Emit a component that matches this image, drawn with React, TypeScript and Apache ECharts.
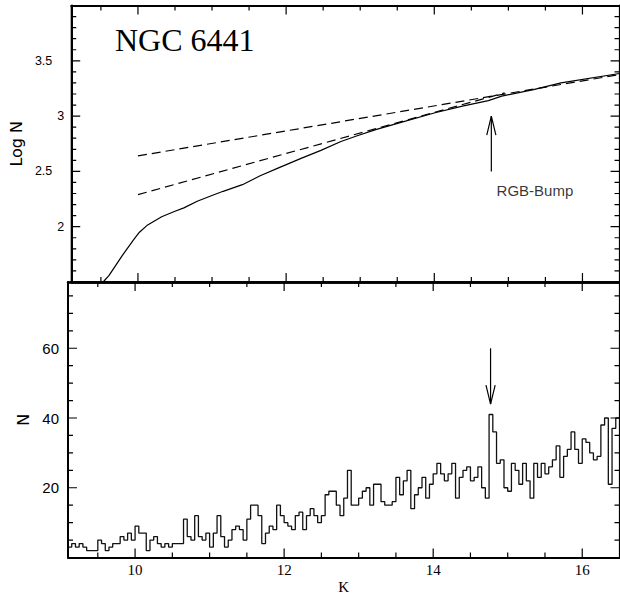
import React, { useEffect, useRef } from "react";
import * as echarts from "echarts";

// ---------- data ----------
const K_MIN = 9.1;
const K_MAX = 16.5;
const BIN_START = 9.1;
const BIN_WIDTH = 0.05;

// luminosity function counts per 0.05 mag bin (K = 9.10 ... 16.50)
const histCounts = [
  3, 4, 3, 4, 3, 2, 2, 2, 5, 4,
  2, 3, 4, 4, 6, 5, 7, 5, 9, 7,
  7, 2, 5, 6, 4, 3, 4, 3, 4, 4,
  4, 11, 6, 5, 12, 6, 5, 7, 3, 7,
  12, 6, 3, 5, 8, 9, 8, 5, 11, 15,
  15, 12, 4, 7, 9, 8, 15, 12, 10, 9,
  8, 12, 13, 8, 12, 14, 12, 10, 12, 18,
  19, 19, 15, 12, 17, 25, 15, 15, 17, 19,
  20, 15, 21, 21, 16, 15, 15, 16, 23, 18,
  22, 25, 14, 18, 20, 23, 17, 21, 24, 27,
  24, 22, 24, 27, 17, 23, 25, 26, 22, 23,
  26, 20, 17, 41, 36, 27, 28, 20, 19, 27,
  25, 21, 27, 22, 17, 27, 23, 27, 24, 26,
  28, 32, 23, 29, 31, 36, 31, 27, 34, 33,
  30, 28, 29, 38, 40, 21, 37, 40,
];

// cumulative luminosity function (Log N vs K)
const cumK = [9.53, 9.61, 9.79, 9.94, 10.02, 10.12, 10.32, 10.5, 10.62, 10.8, 10.99, 11.15, 11.41, 11.65, 11.89, 12.21, 12.47, 12.74, 12.95, 13.22, 13.48, 14.01, 14.38, 14.73, 14.91, 15.34, 15.71, 16.5];
const cumLogN = [1.5, 1.56, 1.74, 1.88, 1.95, 2.01, 2.09, 2.14, 2.17, 2.23, 2.28, 2.32, 2.38, 2.46, 2.53, 2.62, 2.69, 2.77, 2.82, 2.88, 2.93, 3.03, 3.09, 3.14, 3.18, 3.24, 3.3, 3.385];

// linear fits (dashed): bright side and faint side, meeting at the bump
const fitUpperK = [10, 16.5];
const fitUpperLogN = [2.64, 3.375];
const fitLowerK = [10, 14.95];
const fitLowerLogN = [2.29, 3.21];

// RGB bump annotation
const bumpK = 14.77;
const topArrowLogN = [2.5, 3.0]; // tail, tip
const bottomArrowN = [60, 44]; // tail, tip
const bumpLabel = "RGB-Bump";
const bumpLabelK = 14.84;
const bumpLabelLogN = 2.33;

const titleText = "NGC 6441";

// axis ranges and ticks
const TOP_Y = [1.5, 4];
const BOT_Y = [0, 79];
const xMajorTicks = [10, 12, 14, 16];
const xMinorTicks = [9.5, 10.5, 11, 11.5, 12.5, 13, 13.5, 14.5, 15, 15.5];
const topYMajorTicks = [2, 2.5, 3, 3.5];
const topYMinorTicks = [1.6, 1.7, 1.8, 1.9, 2.1, 2.2, 2.3, 2.4, 2.6, 2.7, 2.8, 2.9, 3.1, 3.2, 3.3, 3.4, 3.6, 3.7, 3.8, 3.9];
const botYMajorTicks = [20, 40, 60];
const botYMinorTicks = [5, 10, 15, 25, 30, 35, 45, 50, 55, 65, 70, 75];

// ---------- layout & styles ----------
const GRID_LEFT = 68;
const GRID_WIDTH = 551.5;
const TOP_GRID = { top: 5.5, height: 276.5 };
const BOT_GRID = { top: 282, height: 275.5 };

const ARROW_HALF_PX = 4.6;
const ARROW_LEN_PX = 19;
const MAJOR_LEN = 9;
const MINOR_LEN = 5;

const BLACK = "#000";

function xAxisDef(gridIndex: number, position: string, labels: boolean, lineWidth: number, name?: string) {
  return {
    type: "value",
    gridIndex,
    position,
    min: K_MIN,
    max: K_MAX,
    splitNumber: 4,
    axisLine: { show: true, onZero: false, lineStyle: { color: BLACK, width: lineWidth } },
    axisTick: { show: false },
    minorTick: { show: false },
    splitLine: { show: false },
    axisLabel: labels
      ? {
          show: true,
          showMinLabel: false,
          showMaxLabel: false,
          margin: 5,
          color: BLACK,
          fontFamily: "Liberation Serif",
          fontSize: 15,
        }
      : { show: false },
    name: name || "",
    nameLocation: "middle",
    nameGap: 22,
    nameTextStyle: { color: BLACK, fontFamily: "Liberation Serif", fontSize: 15 },
  };
}

function yAxisDef(
  gridIndex: number,
  position: string,
  range: number[],
  interval: number,
  label: any,
  name?: string,
  nameGap?: number
) {
  return {
    type: "value",
    gridIndex,
    position,
    min: range[0],
    max: range[1],
    interval,
    axisLine: { show: true, onZero: false, lineStyle: { color: BLACK, width: 2 } },
    axisTick: { show: false },
    minorTick: { show: false },
    splitLine: { show: false },
    axisLabel: label || { show: false },
    name: name || "",
    nameLocation: "middle",
    nameGap: nameGap || 30,
    nameRotate: 90,
    nameTextStyle: { color: BLACK, fontFamily: "DejaVu Sans", fontSize: 16 },
  };
}

// tick marks drawn as one continuous "comb" line per panel side:
// the line runs along the frame and makes a short inward excursion at each tick.
function combSeries(
  xIdx: number,
  yIdx: number,
  grid: { top: number; height: number },
  yRange: number[],
  yMajor: number[],
  yMinor: number[]
): any[] {
  const pxPerK = GRID_WIDTH / (K_MAX - K_MIN);
  const pxPerY = grid.height / (yRange[1] - yRange[0]);
  const xTicks = [
    ...xMajorTicks.map((v) => [v, MAJOR_LEN]),
    ...xMinorTicks.map((v) => [v, MINOR_LEN]),
  ].sort((a, b) => a[0] - b[0]);
  const yTicks = [
    ...yMajor.map((v) => [v, MAJOR_LEN]),
    ...yMinor.map((v) => [v, MINOR_LEN]),
  ].sort((a, b) => a[0] - b[0]);

  const horiz = (yEdge: number, dir: number) => {
    const pts: number[][] = [[K_MIN, yEdge]];
    xTicks.forEach(([v, L]) => {
      pts.push([v, yEdge], [v, yEdge + (dir * L) / pxPerY], [v, yEdge]);
    });
    pts.push([K_MAX, yEdge]);
    return pts;
  };
  const vert = (xEdge: number, dir: number) => {
    const pts: number[][] = [[xEdge, yRange[0]]];
    yTicks.forEach(([v, L]) => {
      pts.push([xEdge, v], [xEdge + (dir * L) / pxPerK, v], [xEdge, v]);
    });
    pts.push([xEdge, yRange[1]]);
    return pts;
  };
  const sides = [
    horiz(yRange[0], 1),
    horiz(yRange[1], -1),
    vert(K_MIN, 1),
    vert(K_MAX, -1),
  ];
  return sides.map((pts) => ({
    type: "line",
    name: "ticks",
    xAxisIndex: xIdx,
    yAxisIndex: yIdx,
    symbol: "none",
    showSymbol: false,
    silent: true,
    animation: false,
    clip: false,
    data: pts,
    lineStyle: { color: BLACK, width: 1.2 },
    z: 5,
  }));
}

export default function App() {
  const ref = useRef<HTMLDivElement>(null);

  useEffect(() => {
    if (!ref.current) return;
    const chart = echarts.init(ref.current, undefined, { renderer: "svg" });

    const histData: number[][] = histCounts.map((c, i) => [
      +(BIN_START + i * BIN_WIDTH).toFixed(3),
      c,
    ]);
    histData.push([
      +(BIN_START + histCounts.length * BIN_WIDTH).toFixed(3),
      histCounts[histCounts.length - 1],
    ]);

    const cumData = cumK.map((k, i) => [k, cumLogN[i]]);
    const upperData = fitUpperK.map((k, i) => [k, fitUpperLogN[i]]);
    const lowerData = fitLowerK.map((k, i) => [k, fitLowerLogN[i]]);

    const pxPerK = GRID_WIDTH / (K_MAX - K_MIN);
    const pxPerLogN = TOP_GRID.height / (TOP_Y[1] - TOP_Y[0]);
    const pxPerN = BOT_GRID.height / (BOT_Y[1] - BOT_Y[0]);
    const hw = ARROW_HALF_PX / pxPerK;

    const topTip = topArrowLogN[1];
    const botTip = bottomArrowN[1];

    const lineBase = {
      type: "line",
      symbol: "none",
      showSymbol: false,
      silent: true,
      animation: false,
    };

    const option: any = {
      animation: false,
      backgroundColor: "#fff",
      grid: [
        { left: GRID_LEFT, width: GRID_WIDTH, ...TOP_GRID },
        { left: GRID_LEFT, width: GRID_WIDTH, ...BOT_GRID },
      ],
      xAxis: [
        xAxisDef(0, "bottom", false, 2.5),
        xAxisDef(0, "top", false, 2),
        xAxisDef(1, "bottom", true, 2, "K"),
        xAxisDef(1, "top", false, 2.5),
      ],
      yAxis: [
        yAxisDef(
          0,
          "left",
          TOP_Y,
          0.5,
          {
            show: true,
            showMinLabel: false,
            showMaxLabel: false,
            margin: 7,
            color: BLACK,
            fontFamily: "Liberation Sans",
            fontSize: 12.5,
            formatter: (v: number) => (Number.isInteger(v) ? String(v) : "{h|" + v + "}"),
            rich: {
              h: {
                padding: [0, 12, 0, 0],
                color: BLACK,
                fontFamily: "Liberation Sans",
                fontSize: 12.5,
              },
            },
          },
          "Log N",
          33
        ),
        yAxisDef(0, "right", TOP_Y, 0.5, null),
        yAxisDef(
          1,
          "left",
          BOT_Y,
          20,
          {
            show: true,
            showMinLabel: false,
            showMaxLabel: false,
            margin: 9,
            color: BLACK,
            fontFamily: "Liberation Sans",
            fontSize: 15,
          },
          "N",
          27
        ),
        yAxisDef(1, "right", BOT_Y, 20, null),
      ],
      graphic: [
        {
          type: "text",
          x: 115,
          y: 39.5,
          silent: true,
          z: 10,
          style: {
            text: titleText,
            fill: BLACK,
            font: '32px "Liberation Serif"',
            verticalAlign: "middle",
            align: "left",
          },
        },
      ],
      series: [
        {
          ...lineBase,
          name: "cumulative",
          xAxisIndex: 0,
          yAxisIndex: 0,
          data: cumData,
          lineStyle: { color: BLACK, width: 1.2 },
        },
        {
          ...lineBase,
          name: "fit upper",
          xAxisIndex: 0,
          yAxisIndex: 0,
          data: upperData,
          lineStyle: { color: BLACK, width: 1.2, type: [9, 5] },
        },
        {
          ...lineBase,
          name: "fit lower",
          xAxisIndex: 0,
          yAxisIndex: 0,
          data: lowerData,
          lineStyle: { color: BLACK, width: 1.2, type: [9, 5] },
        },
        {
          ...lineBase,
          name: "arrow top",
          xAxisIndex: 0,
          yAxisIndex: 0,
          data: [
            [bumpK, topArrowLogN[0]],
            [bumpK, topTip],
          ],
          lineStyle: { color: BLACK, width: 1.2 },
        },
        {
          ...lineBase,
          name: "arrow top head",
          xAxisIndex: 0,
          yAxisIndex: 0,
          data: [
            [bumpK - hw, topTip - ARROW_LEN_PX / pxPerLogN],
            [bumpK, topTip],
            [bumpK + hw, topTip - ARROW_LEN_PX / pxPerLogN],
          ],
          lineStyle: { color: BLACK, width: 1.2 },
        },
        {
          type: "scatter",
          name: "label",
          xAxisIndex: 0,
          yAxisIndex: 0,
          silent: true,
          symbolSize: 0.1,
          itemStyle: { color: "rgba(0,0,0,0)" },
          data: [[bumpLabelK, bumpLabelLogN]],
          label: {
            show: true,
            position: "right",
            distance: 0,
            formatter: bumpLabel,
            color: BLACK,
            fontFamily: "Liberation Sans",
            fontSize: 15,
          },
        },
        {
          ...lineBase,
          name: "histogram",
          xAxisIndex: 2,
          yAxisIndex: 2,
          step: "end",
          data: histData,
          lineStyle: { color: "#111", width: 1.3 },
        },
        {
          ...lineBase,
          name: "arrow bottom",
          xAxisIndex: 2,
          yAxisIndex: 2,
          data: [
            [bumpK, bottomArrowN[0]],
            [bumpK, botTip],
          ],
          lineStyle: { color: BLACK, width: 1.2 },
        },
        {
          ...lineBase,
          name: "arrow bottom head",
          xAxisIndex: 2,
          yAxisIndex: 2,
          data: [
            [bumpK - hw, botTip + ARROW_LEN_PX / pxPerN],
            [bumpK, botTip],
            [bumpK + hw, botTip + ARROW_LEN_PX / pxPerN],
          ],
          lineStyle: { color: BLACK, width: 1.2 },
        },
        ...combSeries(0, 0, TOP_GRID, TOP_Y, topYMajorTicks, topYMinorTicks),
        ...combSeries(2, 2, BOT_GRID, BOT_Y, botYMajorTicks, botYMinorTicks),
      ],
    };

    chart.setOption(option);

    return () => {
      chart.dispose();
    };
  }, []);

  return (
    <div
      ref={ref}
      style={{ position: "absolute", left: 0, top: 0, width: 620, height: 597, background: "#fff" }}
    />
  );
}
